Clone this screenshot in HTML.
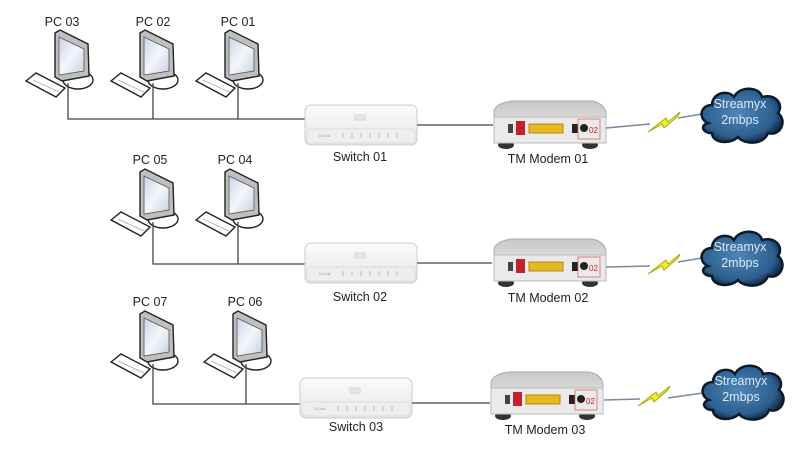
<!DOCTYPE html>
<html><head><meta charset="utf-8"><style>
html,body{margin:0;padding:0;background:#fff;}
svg{display:block;font-family:"Liberation Sans",sans-serif;}
.lb{font-size:12.5px;fill:#222;text-anchor:middle;}
.cl{font-size:12.5px;fill:#dde8f5;text-anchor:middle;}
</style></head><body>
<svg width="800" height="450" viewBox="0 0 800 450" xmlns="http://www.w3.org/2000/svg">
<defs>
<linearGradient id="scr" x1="0" y1="0" x2="1" y2="1"><stop offset="0" stop-color="#c9d4e6"/><stop offset="0.5" stop-color="#f4f6fb"/><stop offset="1" stop-color="#c7d0e0"/></linearGradient>
<linearGradient id="swg" x1="0" y1="0" x2="0" y2="1"><stop offset="0" stop-color="#fbfbfb"/><stop offset="1" stop-color="#e6e6e6"/></linearGradient>
<linearGradient id="mdg" x1="0" y1="0" x2="0" y2="1"><stop offset="0" stop-color="#c8c8c8"/><stop offset="1" stop-color="#efefef"/></linearGradient>
<radialGradient id="cg" cx="0.45" cy="0.45" r="0.6"><stop offset="0" stop-color="#4d86b8"/><stop offset="0.75" stop-color="#2c5f8e"/><stop offset="1" stop-color="#0e2236"/></radialGradient>
<g id="pc">
<ellipse cx="10" cy="80" rx="15" ry="9" fill="#fff" stroke="#222" stroke-width="1.4"/>
<polygon points="-13,33 -8,30 20,44 21,76 -6,81 -13,77" fill="#bfbfbf" stroke="#222" stroke-width="1.4"/>
<polygon points="-9,37 16,49 16,71 -9,75" fill="url(#scr)" stroke="#555" stroke-width="0.8"/>
<polygon points="-42,81 -32,73 -3,88 -12,97" fill="#fff" stroke="#222" stroke-width="1.4"/>
<line x1="-35" y1="80" x2="-9" y2="92" stroke="#888" stroke-width="0.6"/>
</g>
<g id="swi">
<rect x="0" y="0" width="112" height="40" rx="6" fill="url(#swg)" stroke="#ccc"/>
<rect x="2" y="24" width="108" height="14" rx="3" fill="#eee" stroke="#ddd"/>
<rect x="50" y="10" width="10" height="5" fill="#e8e8e8" stroke="#d4d4d4"/>
<text x="14" y="32" font-size="4" fill="#999">D-Link</text>
<path d="M38 28v5M47 28v5M56 28v5M65 28v5M74 28v5M83 28v5M92 28v5" stroke="#bbb"/>
</g>
<g id="mod">
<ellipse cx="14" cy="46" rx="8" ry="4" fill="#333"/><ellipse cx="98" cy="46" rx="8" ry="4" fill="#333"/>
<path d="M2 12 Q4 4 20 2 L100 2 Q112 4 114 14 L114 44 L2 44Z" fill="url(#mdg)" stroke="#aaa"/>
<rect x="2" y="18" width="112" height="26" fill="#eaeaea" stroke="#bbb"/>
<rect x="16" y="25" width="5" height="9" fill="#444"/>
<rect x="24" y="22" width="9" height="14" fill="#c3202a"/>
<rect x="37" y="25" width="34" height="9" fill="#e8b820" stroke="#b08a10"/>
<rect x="80" y="25" width="6" height="9" fill="#222"/>
<circle cx="92" cy="29" r="4" fill="#222"/>
<rect x="86" y="20" width="22" height="20" fill="none" stroke="#d66" stroke-width="0.8"/>
<text x="97" y="34" font-size="8" fill="#c22">02</text>
</g>
<g id="cloud">
<path d="M8 38 C-2 34 0 20 12 20 C12 8 28 4 34 12 C40 0 60 2 62 12 C76 8 84 20 78 28 C88 36 80 52 68 48 C64 60 44 60 38 52 C30 60 12 58 12 48 C2 48 0 40 8 38Z" fill="url(#cg)" stroke="#0b1a2a" stroke-width="2.5"/>
</g>
<g id="bolt"><polygon points="0,20 18,6 20,10 32,0 30,4 16,16 14,12 0,20" fill="#f2f21a" stroke="#a8a810" stroke-width="1"/></g>
</defs>

<!-- Row 1 -->
<text class="lb" x="62" y="26">PC 03</text><text class="lb" x="153" y="26">PC 02</text><text class="lb" x="238" y="26">PC 01</text>
<use href="#pc" x="68" y="0"/><use href="#pc" x="153" y="0"/><use href="#pc" x="238" y="0"/>
<path d="M68 83V119H305M153 83V119M238 83V119" stroke="#444" fill="none" stroke-width="1.3"/>
<use href="#swi" x="305" y="105"/>
<text class="lb" x="360" y="161">Switch 01</text>
<line x1="417" y1="125" x2="493" y2="125" stroke="#444" stroke-width="1.3"/>
<use href="#mod" x="492" y="99"/>
<text class="lb" x="548" y="163">TM Modem 01</text>
<line x1="606" y1="128" x2="650" y2="124" stroke="#7a8a9a" stroke-width="1.5"/>
<use href="#bolt" x="648" y="112"/>
<line x1="678" y1="118" x2="702" y2="114" stroke="#7a8a9a" stroke-width="1.5"/>
<use href="#cloud" x="700" y="85"/>
<text class="cl" x="740" y="108">Streamyx</text><text class="cl" x="740" y="124">2mbps</text>

<!-- Row 2 -->
<text class="lb" x="150" y="164">PC 05</text><text class="lb" x="235" y="164">PC 04</text>
<use href="#pc" x="153" y="139"/><use href="#pc" x="238" y="139"/>
<path d="M153 222V264H305M238 222V264" stroke="#444" fill="none" stroke-width="1.3"/>
<use href="#swi" x="305" y="243"/>
<text class="lb" x="360" y="301">Switch 02</text>
<line x1="417" y1="263" x2="492" y2="263" stroke="#444" stroke-width="1.3"/>
<use href="#mod" x="492" y="237"/>
<text class="lb" x="548" y="302">TM Modem 02</text>
<line x1="606" y1="267" x2="650" y2="266" stroke="#7a8a9a" stroke-width="1.5"/>
<use href="#bolt" x="648" y="254"/>
<line x1="678" y1="262" x2="702" y2="258" stroke="#7a8a9a" stroke-width="1.5"/>
<use href="#cloud" x="700" y="228"/>
<text class="cl" x="740" y="251">Streamyx</text><text class="cl" x="740" y="267">2mbps</text>

<!-- Row 3 -->
<text class="lb" x="150" y="306">PC 07</text><text class="lb" x="245" y="306">PC 06</text>
<use href="#pc" x="153" y="281"/><use href="#pc" x="246" y="281"/>
<path d="M153 364V404H300M246 364V404" stroke="#444" fill="none" stroke-width="1.3"/>
<use href="#swi" x="300" y="378"/>
<text class="lb" x="356" y="431">Switch 03</text>
<line x1="412" y1="403" x2="490" y2="403" stroke="#444" stroke-width="1.3"/>
<use href="#mod" x="489" y="370"/>
<text class="lb" x="545" y="434">TM Modem 03</text>
<line x1="604" y1="400" x2="640" y2="399" stroke="#7a8a9a" stroke-width="1.5"/>
<use href="#bolt" x="638" y="386"/>
<line x1="668" y1="398" x2="703" y2="393" stroke="#7a8a9a" stroke-width="1.5"/>
<use href="#cloud" x="701" y="362"/>
<text class="cl" x="741" y="385">Streamyx</text><text class="cl" x="741" y="401">2mbps</text>
</svg>
</body></html>
